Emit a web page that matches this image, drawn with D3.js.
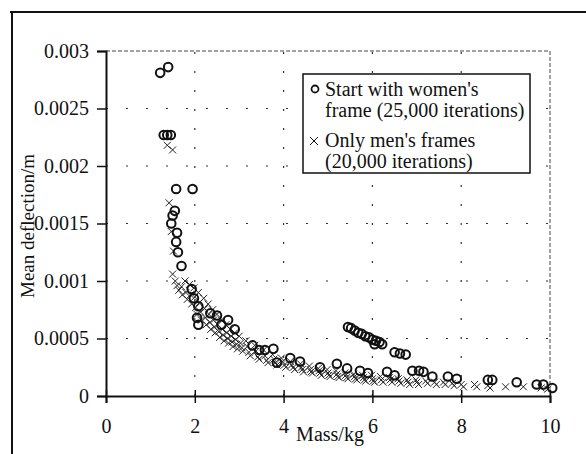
<!DOCTYPE html>
<html>
<head>
<meta charset="utf-8">
<script src="https://cdn.jsdelivr.net/npm/d3@7"></script>
<style>
  body { margin: 0; background: #fff; }
  svg { display: block; font-family: "Liberation Serif", "DejaVu Serif", serif; }
</style>
</head>
<body>
<div id="chart"></div>
<script>
// tick values and labels
var xTicks = [0, 2, 4, 6, 8, 10];
var yTicks = [0, 0.0005, 0.001, 0.0015, 0.002, 0.0025, 0.003];
var yTickLabels = ['0', '0.0005', '0.001', '0.0015', '0.002', '0.0025', '0.003'];

// Start with women's frame (circles)
var womenMass = [1.22, 1.40, 1.30, 1.38, 1.46, 1.58, 1.95, 1.55, 1.50, 1.47, 1.60, 1.58, 1.62, 1.70,
  1.93, 1.98, 2.08, 2.05, 2.08, 2.35, 2.50, 2.75, 2.60, 2.90, 3.30, 3.45, 3.58, 3.77, 3.85, 4.15,
  4.37, 4.82, 5.20, 5.43, 5.72, 5.90, 5.45, 5.52, 5.60, 5.68, 5.76, 5.84, 5.92, 6.00, 6.08, 6.16,
  6.22, 6.05, 6.50, 6.62, 6.75, 6.33, 6.50, 6.90, 7.05, 7.15, 7.35, 7.70, 7.90, 8.60, 8.70, 9.25,
  9.70, 9.85, 10.05];
var womenDefl = [0.00281, 0.00286, 0.00227, 0.00227, 0.00227, 0.00180, 0.00180, 0.00161, 0.00157,
  0.00150, 0.00142, 0.00134, 0.00125, 0.00113, 0.00093, 0.00085, 0.00078, 0.00068, 0.00062, 0.00072,
  0.00070, 0.00066, 0.00062, 0.00058, 0.00044, 0.00040, 0.00040, 0.00041, 0.00029, 0.00033, 0.00030,
  0.00025, 0.00028, 0.00024, 0.00022, 0.00020, 0.00060, 0.00059, 0.00057, 0.00055, 0.00054, 0.00052,
  0.00051, 0.00049, 0.00048, 0.00047, 0.00045, 0.00045, 0.00038, 0.00037, 0.00036, 0.00021, 0.00018,
  0.00022, 0.00022, 0.00021, 0.00017, 0.00017, 0.00015, 0.00014, 0.00014, 0.00012, 0.00010, 0.00010,
  0.00007];

// Only men's frames (crosses)
var menMass = [1.38, 1.50, 1.42, 1.47, 1.52, 1.50, 1.56, 1.60, 1.64, 1.70, 1.72, 1.78, 1.80, 1.83,
  1.88, 1.90, 1.93, 1.98, 2.00, 2.02, 2.05, 2.08, 2.10, 2.13, 2.15, 2.20, 2.22, 2.24, 2.26, 2.30,
  2.32, 2.34, 2.36, 2.40, 2.42, 2.44, 2.46, 2.50, 2.52, 2.54, 2.56, 2.60, 2.62, 2.64, 2.66, 2.70,
  2.72, 2.74, 2.76, 2.80, 2.82, 2.84, 2.86, 2.90, 2.92, 2.94, 2.96, 3.00, 3.03, 3.06, 3.08, 3.15,
  3.18, 3.22, 3.25, 3.35, 3.38, 3.42, 3.45, 3.55, 3.58, 3.62, 3.65, 3.75, 3.78, 3.82, 3.85, 3.95,
  3.98, 4.02, 4.05, 4.15, 4.18, 4.22, 4.25, 4.38, 4.40, 4.42, 4.45, 4.58, 4.60, 4.62, 4.65, 4.78,
  4.80, 4.82, 4.85, 4.98, 5.00, 5.02, 5.05, 5.18, 5.20, 5.22, 5.25, 5.38, 5.40, 5.42, 5.45, 5.58,
  5.60, 5.62, 5.65, 5.78, 5.80, 5.82, 5.85, 5.98, 6.00, 6.02, 6.05, 6.18, 6.20, 6.24, 6.38, 6.40,
  6.44, 6.58, 6.60, 6.64, 6.78, 6.80, 6.84, 6.98, 7.00, 7.04, 7.20, 7.24, 7.40, 7.44, 7.60, 7.64,
  7.80, 7.84, 8.00, 8.05, 8.30, 8.35, 8.60, 8.65, 9.00, 9.40, 9.80, 9.95];
var menDefl = [0.00218, 0.00214, 0.00168, 0.00143, 0.00126, 0.00106, 0.00100, 0.00096, 0.00092,
  0.00095, 0.00088, 0.00100, 0.00090, 0.00084, 0.00097, 0.00088, 0.00080, 0.00094, 0.00086, 0.00077,
  0.00071, 0.00090, 0.00081, 0.00073, 0.00066, 0.00085, 0.00076, 0.00068, 0.00062, 0.00080, 0.00071,
  0.00064, 0.00058, 0.00075, 0.00066, 0.00060, 0.00055, 0.00071, 0.00062, 0.00056, 0.00051, 0.00066,
  0.00058, 0.00053, 0.00048, 0.00062, 0.00055, 0.00050, 0.00046, 0.00058, 0.00052, 0.00047, 0.00043,
  0.00055, 0.00049, 0.00045, 0.00041, 0.00052, 0.00046, 0.00042, 0.00039, 0.00048, 0.00043, 0.00038,
  0.00035, 0.00044, 0.00039, 0.00034, 0.00032, 0.00040, 0.00035, 0.00031, 0.00029, 0.00036, 0.00032,
  0.00029, 0.00027, 0.00033, 0.00030, 0.00027, 0.00025, 0.00030, 0.00027, 0.00025, 0.00023, 0.00028,
  0.00025, 0.00023, 0.00021, 0.00026, 0.00023, 0.00021, 0.00020, 0.00024, 0.00022, 0.00020, 0.00018,
  0.00023, 0.00020, 0.00018, 0.00017, 0.00022, 0.00019, 0.00017, 0.00016, 0.00020, 0.00018, 0.00016,
  0.00015, 0.00019, 0.00017, 0.00015, 0.00014, 0.00018, 0.00016, 0.00014, 0.00013, 0.00018, 0.00015,
  0.00013, 0.00012, 0.00017, 0.00014, 0.00012, 0.00016, 0.00014, 0.00012, 0.00015, 0.00013, 0.00011,
  0.00014, 0.00012, 0.00010, 0.00014, 0.00012, 0.00010, 0.00013, 0.00011, 0.00012, 0.00010, 0.00012,
  0.00010, 0.00011, 0.00009, 0.00010, 0.00008, 0.00010, 0.00008, 0.00009, 0.00007, 0.00008, 0.00008,
  0.00007, 0.00006];

var legendLabels = [["Start with women's", "frame (25,000 iterations)"], ["Only men's frames", "(20,000 iterations)"]];

var svgWidth = 586, svgHeight = 454;
var svg = d3.select('#chart').append('svg')
    .attr('width', svgWidth)
    .attr('height', svgHeight);

var x = d3.scaleLinear().domain([0, 10]).range([106, 550]);
var y = d3.scaleLinear().domain([0, 0.003]).range([396, 51]);

// outer frame (only top and left edges visible)
svg.append('line').attr('x1', 10).attr('x2', svgWidth).attr('y1', 12).attr('y2', 12)
    .attr('stroke', '#111').attr('stroke-width', 2);
svg.append('line').attr('x1', 12).attr('x2', 12).attr('y1', 11).attr('y2', svgHeight)
    .attr('stroke', '#111').attr('stroke-width', 2);

// gridlines
var grid = svg.append('g');
grid.selectAll('.hgrid')
    .data(yTicks.slice(1, -1))
    .enter().append('line')
    .attr('x1', x(0)).attr('x2', x(10))
    .attr('y1', function(d) { return y(d); })
    .attr('y2', function(d) { return y(d); })
    .attr('stroke', '#333').attr('stroke-width', 1.2)
    .attr('stroke-dasharray', '2,18');
grid.selectAll('.vgrid')
    .data(xTicks.slice(1, -1))
    .enter().append('line')
    .attr('y1', y(0)).attr('y2', y(0.003))
    .attr('x1', function(d) { return x(d); })
    .attr('x2', function(d) { return x(d); })
    .attr('stroke', '#333').attr('stroke-width', 1.2)
    .attr('stroke-dasharray', '2,17');
// dashed plot border (top, right)
grid.append('path')
    .attr('d', 'M' + x(0) + ',' + y(0.003) + 'H' + x(10) + 'V' + y(0))
    .attr('fill', 'none').attr('stroke', '#444').attr('stroke-width', 1)
    .attr('stroke-dasharray', '4,2');

// crosses
var cs = 3.5;
svg.append('g').selectAll('path')
    .data(menMass)
    .enter().append('path')
    .attr('d', function(d, i) {
        var px = x(d), py = y(menDefl[i]);
        return 'M' + (px - cs) + ',' + (py - cs) + 'L' + (px + cs) + ',' + (py + cs) +
               'M' + (px - cs) + ',' + (py + cs) + 'L' + (px + cs) + ',' + (py - cs);
    })
    .attr('stroke', '#222').attr('stroke-width', 1).attr('fill', 'none');

// circles
svg.append('g').selectAll('circle')
    .data(womenMass)
    .enter().append('circle')
    .attr('cx', function(d) { return x(d); })
    .attr('cy', function(d, i) { return y(womenDefl[i]); })
    .attr('r', 4.3)
    .attr('fill', 'none')
    .attr('stroke', '#111')
    .attr('stroke-width', 2);

// axes
var yAxis = svg.append('g')
    .attr('transform', 'translate(' + x(0) + ',0)')
    .call(d3.axisLeft(y).tickValues(yTicks).tickSize(9).tickPadding(8)
        .tickFormat(function(d, i) { return yTickLabels[i]; }));
var xAxis = svg.append('g')
    .attr('transform', 'translate(0,' + y(0) + ')')
    .call(d3.axisBottom(x).tickValues(xTicks).tickSize(7).tickPadding(16));
xAxis.selectAll('.tick line').attr('y1', -6);
[yAxis, xAxis].forEach(function(a) {
    a.select('.domain').attr('stroke', '#111').attr('stroke-width', 2);
    a.selectAll('.tick line').attr('stroke', '#111').attr('stroke-width', 1.5);
    a.selectAll('text')
        .style('font-family', '"Liberation Serif", serif')
        .style('font-size', '20px')
        .attr('fill', '#111');
});

// axis titles
svg.append('text')
    .attr('x', 330).attr('y', 441)
    .attr('text-anchor', 'middle')
    .style('font-size', '20px')
    .attr('fill', '#111')
    .text('Mass/kg');
svg.append('text')
    .attr('transform', 'translate(34,226) rotate(-90)')
    .attr('text-anchor', 'middle')
    .style('font-size', '19px')
    .attr('fill', '#111')
    .text('Mean deflection/m');

// legend
var legend = svg.append('g');
legend.append('rect')
    .attr('x', 303).attr('y', 74).attr('width', 227).attr('height', 99)
    .attr('fill', '#fff').attr('stroke', '#111').attr('stroke-width', 1.5);
legend.append('circle')
    .attr('cx', 315).attr('cy', 89).attr('r', 3.5)
    .attr('fill', 'none').attr('stroke', '#111').attr('stroke-width', 1.8);
legend.append('path')
    .attr('d', 'M310,137L318,145M310,145L318,137')
    .attr('stroke', '#111').attr('stroke-width', 1);
var baselines = [[96, 117], [147, 168]];
legendLabels.forEach(function(lines, i) {
    lines.forEach(function(t, j) {
        legend.append('text')
            .attr('x', 325).attr('y', baselines[i][j])
            .style('font-size', '20px')
            .attr('fill', '#111')
            .text(t);
    });
});
</script>
</body>
</html>
